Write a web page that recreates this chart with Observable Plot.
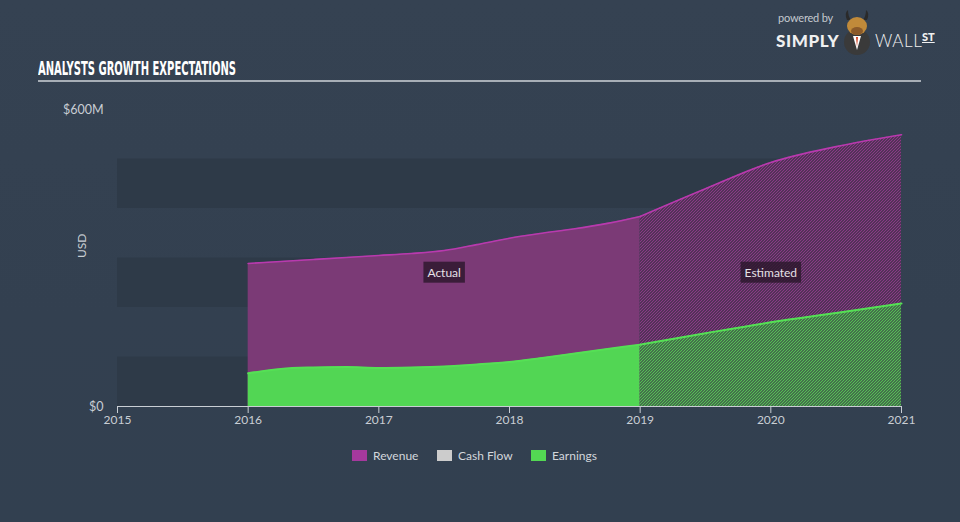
<!DOCTYPE html>
<html>
<head>
<meta charset="utf-8">
<script src="https://cdn.jsdelivr.net/npm/d3@7"></script>
<script src="https://cdn.jsdelivr.net/npm/@observablehq/plot@0.6"></script>
<style>
  html, body { margin: 0; padding: 0; }
  body {
    width: 960px; height: 522px; overflow: hidden; position: relative;
    background: linear-gradient(180deg, #354252 0%, #334050 60%, #324050 100%);
    font-family: Lato, "Open Sans", sans-serif;
  }
  #chart { position: absolute; left: 0; top: 0; }
  #title {
    position: absolute; left: 38px; top: 57px; color: #ffffff;
    font-family: "Liberation Sans Narrow", "DejaVu Sans Condensed", sans-serif;
    font-weight: bold; font-size: 19px; white-space: nowrap; transform-origin: 0 0;
  }
  #rule { position: absolute; left: 38px; top: 80px; width: 883px; height: 2px; background: #a7aeb6; }
  #legend {
    position: absolute; top: 447px; left: 0; width: 960px; height: 16px;
    font-size: 12px; color: #d3d7dc;
  }
  .lg { position: absolute; top: 0; display: flex; align-items: center; height: 16px; }
  .sw { width: 15px; height: 11px; margin-right: 6px; }
  #logo { position: absolute; left: 776px; top: 10px; color: #fff; }
  #logo .pb { position: absolute; left: 2px; top: 1px; font-size: 11px; color: #c4c9cf; white-space: nowrap; letter-spacing: -0.2px; }
  #logo .simply { position: absolute; left: 0; top: 20px; font-size: 17px; font-weight: 900; letter-spacing: 0.6px; white-space: nowrap; color:#f0f0f0; }
  #logo .wall { position: absolute; left: 99px; top: 20px; font-size: 17px; font-weight: 300; letter-spacing: 0.6px; white-space: nowrap; color:#f0f0f0; }
  #logo .st { position: absolute; left: 146px; top: 20px; font-size: 11px; font-weight: 900; text-decoration: underline; color:#f0f0f0; }
  #logo svg { position: absolute; left: 64px; top: 0px; }
</style>
</head>
<body>
<div id="logo">
  <div class="pb">powered by</div>
  <div class="simply">SIMPLY</div>
  <svg width="34" height="48" viewBox="0 0 34 48">
    <circle cx="17" cy="32" r="13" fill="#3a3a3a"/>
    <path d="M7,10 Q4,3 8,0 Q8,6 11,10 Z" fill="#2a2a2a"/>
    <path d="M27,10 Q30,3 26,0 Q26,6 23,10 Z" fill="#2a2a2a"/>
    <ellipse cx="17" cy="16" rx="10" ry="9" fill="#c08a3a"/>
    <ellipse cx="17" cy="21" rx="6" ry="4" fill="#8a5a2a"/>
    <path d="M13,26 L17,40 L21,26 Z" fill="#ffffff"/>
    <path d="M16,27 L17,37 L18,27 Z" fill="#d04020"/>
  </svg>
  <div class="wall">WALL</div>
  <div class="st">ST</div>
</div>
<div id="title">ANALYSTS GROWTH EXPECTATIONS</div>
<div id="rule"></div>
<div id="chart"></div>
<div id="legend"></div>
<script>
// ---- data ----
const actualYears      = [2016, 2016.25, 2016.5, 2016.75, 2017, 2017.25, 2017.5, 2017.75, 2018, 2018.25, 2018.5, 2018.75, 2019];
const actualRevenue    = [289,  293,     297,    301,     305,  309,     315,    327,     340,  350,     359,    370,     384];
const actualEarnings   = [67,   76,      79,     80,      78,   79,      81,     85,      90,   98,      107,    116,     125];
const estimatedYears    = [2019, 2019.5, 2020, 2020.5, 2021];
const estimatedRevenue  = [384,  440,    493,  525,    549];
const estimatedEarnings = [125,  148,    170,  189,    208];
const yearTicks = [2015, 2016, 2017, 2018, 2019, 2020, 2021];
const valueTicks = [0, 600];
const bandStarts = [0, 200, 400];
const phaseLabels = ["Actual", "Estimated"];
const phaseLabelX = [2017.5, 2020];
const legendNames = ["Revenue", "Cash Flow", "Earnings"];
const legendColors = ["#a5399d", "#cccccc", "#53d853"];

const actual = actualYears.map((x, i) => ({x, revenue: actualRevenue[i], earnings: actualEarnings[i]}));
const estimated = estimatedYears.map((x, i) => ({x, revenue: estimatedRevenue[i], earnings: estimatedEarnings[i]}));
const bands = bandStarts.map(s => ({y1: s, y2: s + 100}));
const phases = phaseLabels.map((t, i) => ({t, x: phaseLabelX[i]}));

const axisColor = "#c9ced4";
const curve = "monotone-x";

const chart = Plot.plot({
  width: 960,
  height: 522,
  marginLeft: 117,
  marginRight: 59,
  marginTop: 109,
  marginBottom: 116,
  style: {background: "transparent", color: axisColor, fontFamily: "Lato, 'Open Sans', sans-serif", fontSize: "12px"},
  x: {domain: [2015, 2021]},
  y: {domain: [0, 600]},
  marks: [
    Plot.rect(bands, {x1: () => 2015, x2: () => 2021, y1: "y1", y2: "y2", fill: "#2e3a48"}),
    Plot.areaY(actual, {x: "x", y: "revenue", fill: "#7b3a76", curve}),
    Plot.areaY(estimated, {x: "x", y: "revenue", fill: "url(#hatchRev)", curve}),
    Plot.lineY(actual, {x: "x", y: "revenue", stroke: "#b83aae", strokeWidth: 1.6, curve}),
    Plot.lineY(estimated, {x: "x", y: "revenue", stroke: "#b83aae", strokeWidth: 1.6, curve}),
    Plot.areaY(actual, {x: "x", y: "earnings", fill: "#52d654", curve}),
    Plot.areaY(estimated, {x: "x", y: "earnings", fill: "url(#hatchEarn)", curve}),
    Plot.lineY(actual, {x: "x", y: "earnings", stroke: "#55e055", strokeWidth: 2, curve}),
    Plot.lineY(estimated, {x: "x", y: "earnings", stroke: "#55e055", strokeWidth: 2, curve}),
    Plot.ruleY([0], {stroke: axisColor, strokeWidth: 1.2}),
    Plot.axisX({ticks: yearTicks, tickFormat: d => String(d), tickSize: 7, tickPadding: 2, stroke: axisColor, fill: axisColor, label: null}),
    Plot.axisY({ticks: valueTicks, tickFormat: d => d === 0 ? "$0" : `$${d}M`, tickSize: 0, tickPadding: 14, fill: axisColor, label: null, fontSize: 12.5}),
    Plot.text(["USD"], {frameAnchor: "left", dx: -35, rotate: -90, fill: axisColor, fontSize: 12}),
    Plot.text(phases, {x: "x", y: () => 270, text: "t", fill: "#e6e0e6", fontSize: 12, className: "phase-label"})
  ]
});
document.getElementById("chart").appendChild(chart);

// hatch patterns
const svg = d3.select(chart);
const defs = svg.insert("defs", ":first-child");
function hatch(id, bg, fg) {
  const p = defs.append("pattern").attr("id", id).attr("patternUnits", "userSpaceOnUse")
    .attr("width", 3).attr("height", 3);
  p.append("rect").attr("width", 3).attr("height", 3).attr("fill", bg);
  p.append("path").attr("d", "M-1,1 l2,-2 M0,3 l3,-3 M2,4 l2,-2")
    .attr("stroke", fg).attr("stroke-width", 1.1);
}
hatch("hatchRev", "#3c2f45", "#8e3a8a");
hatch("hatchEarn", "#3d5046", "#56c456");

// label boxes behind phase labels (same transform as the text)
svg.selectAll(".phase-label text").each(function() {
  const b = this.getBBox();
  d3.select(this.parentNode).insert("rect", () => this)
    .attr("transform", this.getAttribute("transform"))
    .attr("x", b.x - 4).attr("y", b.y - 3).attr("width", b.width + 8).attr("height", b.height + 6)
    .attr("fill", "#2a172b").attr("fill-opacity", 0.8);
});

// legend
const legendX = [352, 437, 531];
const lg = d3.select("#legend");
legendNames.forEach((n, i) => {
  const item = lg.append("div").attr("class", "lg").style("left", legendX[i] + "px");
  item.append("div").attr("class", "sw").style("background", legendColors[i]);
  item.append("span").text(n);
});

// fit title width
const title = document.getElementById("title");
const w = title.getBoundingClientRect().width;
title.style.transform = `scaleX(${198 / w})`;
</script>
</body>
</html>
